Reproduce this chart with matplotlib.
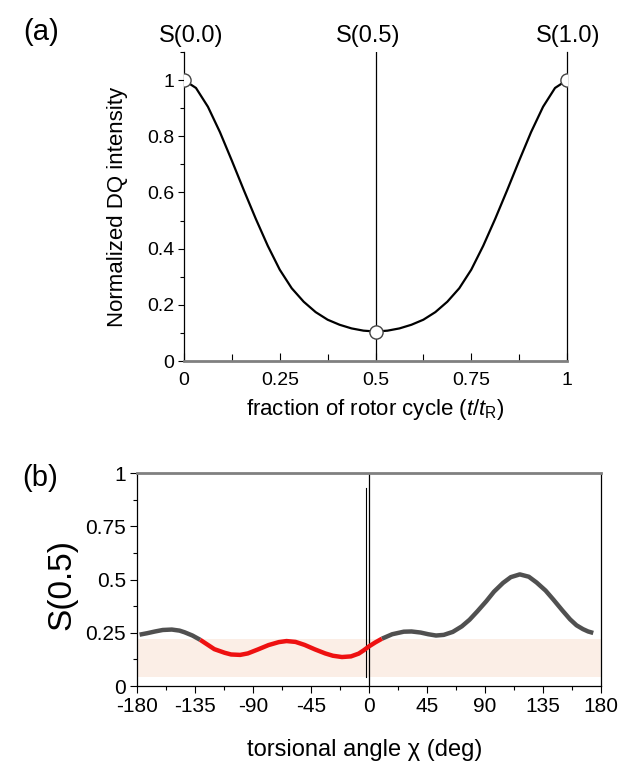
import matplotlib
matplotlib.use("Agg")
import matplotlib.pyplot as plt
from matplotlib.ticker import MultipleLocator

plt.rcParams['font.family'] = ['Liberation Sans', 'DejaVu Sans']
plt.rcParams['mathtext.fontset'] = 'custom'
plt.rcParams['mathtext.rm'] = 'Liberation Sans'
plt.rcParams['mathtext.it'] = 'Liberation Sans:italic'
plt.rcParams['axes.unicode_minus'] = False

# panel (a): DQ build-up over one rotor cycle
frac = [0.0, 0.03125, 0.0625, 0.09375, 0.125, 0.15625, 0.1875, 0.21875, 0.25,
        0.28125, 0.3125, 0.34375, 0.375, 0.40625, 0.4375, 0.46875, 0.5,
        0.53125, 0.5625, 0.59375, 0.625, 0.65625, 0.6875, 0.71875, 0.75,
        0.78125, 0.8125, 0.84375, 0.875, 0.90625, 0.9375, 0.96875, 1.0]
dq = [1.0, 0.972, 0.905, 0.815, 0.713, 0.608, 0.506, 0.41, 0.325,
      0.259, 0.211, 0.174, 0.147, 0.129, 0.116, 0.108, 0.105,
      0.108, 0.116, 0.129, 0.147, 0.174, 0.211, 0.259, 0.325,
      0.41, 0.506, 0.608, 0.713, 0.815, 0.905, 0.972, 1.0]
marked_frac = [0.0, 0.5, 1.0]
marked_dq = [1.0, 0.105, 1.0]
top_labels = ["S(0.0)", "S(0.5)", "S(1.0)"]
a_xticks = [0, 0.25, 0.5, 0.75, 1]
a_xticklabels = ["0", "0.25", "0.5", "0.75", "1"]
a_yticks = [0, 0.2, 0.4, 0.6, 0.8, 1]
a_yticklabels = ["0", "0.2", "0.4", "0.6", "0.8", "1"]

# panel (b): S(0.5) against torsional angle chi
chi = [-178, -172, -166, -160, -153, -147, -143, -137, -131, -125, -120, -112, -107, -100,
       -94, -86, -78, -70, -64, -57, -50, -42, -34, -28, -21, -14, -8, -4, 0, 5, 10, 18,
       27, 33, 40, 46, 52, 58, 65, 72, 78, 84, 91, 97, 104, 110, 117, 124, 130, 137, 143,
       150, 156, 161, 166, 170, 174]
s05 = [0.241, 0.248, 0.256, 0.263, 0.265, 0.260, 0.252, 0.237, 0.217, 0.193, 0.173, 0.156,
       0.148, 0.146, 0.153, 0.172, 0.192, 0.206, 0.211, 0.207, 0.193, 0.172, 0.153, 0.142,
       0.136, 0.139, 0.152, 0.168, 0.186, 0.205, 0.222, 0.243, 0.255, 0.256, 0.251, 0.243,
       0.237, 0.240, 0.254, 0.280, 0.311, 0.350, 0.398, 0.443, 0.484, 0.511, 0.524, 0.513,
       0.486, 0.448, 0.406, 0.355, 0.313, 0.285, 0.267, 0.256, 0.249]
red_from, red_to = -131, 10
band_low, band_high = 0.04, 0.22
b_xticks = [-180, -135, -90, -45, 0, 45, 90, 135, 180]
b_xticklabels = ["-180", "-135", "-90", "-45", "0", "45", "90", "135", "180"]
b_yticks = [0, 0.25, 0.5, 0.75, 1]
b_yticklabels = ["0", "0.25", "0.5", "0.75", "1"]

W, H = 618, 771
fig = plt.figure(figsize=(W / 100, H / 100), dpi=100)


def fx(px):
    return px / W


def fy(py):
    return 1 - py / H


# ---- panel (a)
ax = fig.add_axes([fx(184), fy(361), fx(567) - fx(184), fy(52) - fy(361)])
ax.plot(frac, dq, color="black", lw=1.6, zorder=3)
ax.axvline(0.5, color="black", lw=0.9, zorder=2)
ax.plot(marked_frac, marked_dq, "o", ms=9.5, mfc="white", mec="#444444", mew=1.0, zorder=4)
ax.set_xlim(0, 1)
ax.set_ylim(0, 1.1)
ax.spines["top"].set_visible(False)
ax.spines["right"].set_linewidth(0.9)
ax.spines["left"].set_linewidth(0.9)
ax.spines["bottom"].set_color("#808080")
ax.spines["bottom"].set_linewidth(2)
ax.set_xticks(a_xticks)
ax.set_xticklabels(a_xticklabels)
ax.set_yticks(a_yticks)
ax.set_yticklabels(a_yticklabels)
ax.xaxis.set_minor_locator(MultipleLocator(0.125))
ax.yaxis.set_minor_locator(MultipleLocator(0.1))
ax.tick_params(axis="x", which="major", direction="in", length=6, width=0.8, labelsize=14, pad=8)
ax.tick_params(axis="x", which="minor", direction="in", length=5, width=0.8)
ax.tick_params(axis="y", which="major", direction="out", length=4, width=0.8, labelsize=14, pad=3)
ax.tick_params(axis="y", which="minor", direction="out", length=3, width=0.8)
for xpos, lab in zip([191, 368, 568], top_labels):
    fig.text(fx(xpos), fy(36), lab, ha="center", va="center", fontsize=17)
fig.text(fx(41), fy(32), "(a)", ha="center", va="center", fontsize=21)
fig.text(fx(118), fy(207), "Normalized DQ intensity", rotation=90,
         ha="center", va="center", fontsize=16)
fig.text(fx(375), fy(410), r"fraction of rotor cycle ($\it{t}$/$\it{t}_\mathrm{R}$)",
         ha="center", va="center", fontsize=16)

# ---- panel (b)
bx = fig.add_axes([fx(137), fy(686), fx(601) - fx(137), fy(473) - fy(686)])
bx.axhspan(band_low, band_high, color="#fbeee6", lw=0, zorder=1)
bx.axvline(0, color="black", lw=0.9, zorder=2)
bx.plot([-2, -2], [0.04, 0.93], color="black", lw=0.8, zorder=2)
i0 = chi.index(red_from)
i1 = chi.index(red_to)
bx.plot(chi[:i0 + 1], s05[:i0 + 1], color="#505050", lw=3.2, solid_capstyle="butt", zorder=3)
bx.plot(chi[i1:], s05[i1:], color="#505050", lw=3.2, solid_capstyle="butt", zorder=3)
bx.plot(chi[i0:i1 + 1], s05[i0:i1 + 1], color="#ee1111", lw=3.2, solid_capstyle="butt", zorder=4)
bx.set_xlim(-180, 180)
bx.set_ylim(0, 1)
bx.spines["top"].set_color("#808080")
bx.spines["top"].set_linewidth(2)
for side in ["left", "right", "bottom"]:
    bx.spines[side].set_linewidth(0.9)
bx.set_xticks(b_xticks)
bx.set_xticklabels(b_xticklabels)
bx.set_yticks(b_yticks)
bx.set_yticklabels(b_yticklabels)
bx.xaxis.set_minor_locator(MultipleLocator(22.5))
bx.yaxis.set_minor_locator(MultipleLocator(0.125))
bx.tick_params(axis="both", which="major", direction="out", length=5, width=0.8, labelsize=15, pad=3)
bx.tick_params(axis="both", which="minor", direction="out", length=3, width=0.8)
fig.text(fx(40), fy(478), "(b)", ha="center", va="center", fontsize=21)
fig.text(fx(62), fy(584), "S(0.5)", rotation=90, ha="center", va="center", fontsize=24)
fig.text(fx(365), fy(750), "torsional angle \u03c7 (deg)", ha="center", va="center", fontsize=17)

fig.savefig("out.png", dpi=100)
